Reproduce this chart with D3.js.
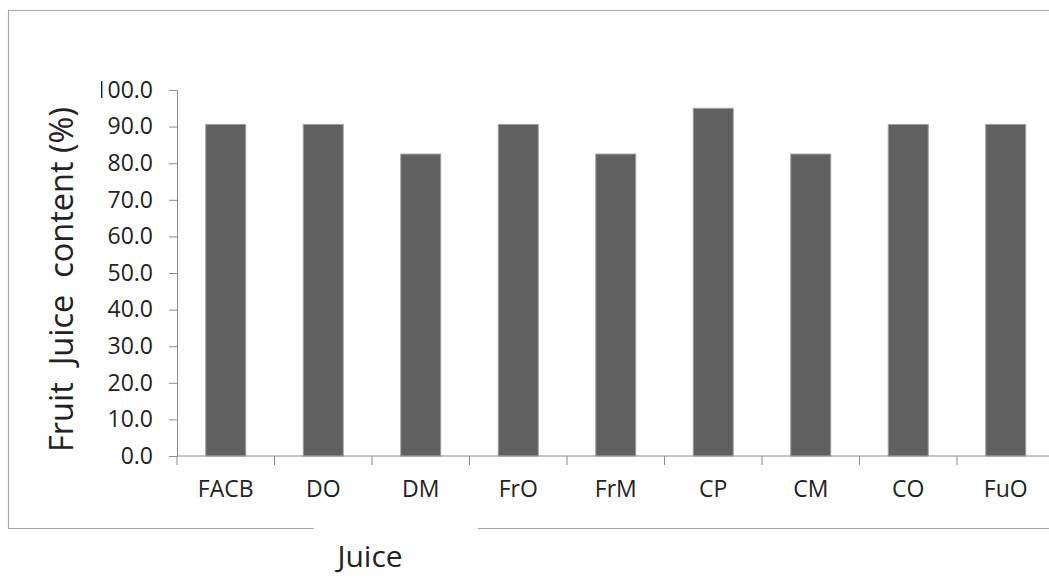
<!DOCTYPE html>
<html>
<head>
<meta charset="utf-8">
<script src="https://cdn.jsdelivr.net/npm/d3@7"></script>
<style>
  html, body { margin: 0; padding: 0; background: #fff; }
  svg { display: block; }
  text { font-family: "Open Sans", sans-serif; fill: #222; }
</style>
</head>
<body>
<svg id="chart" width="1049" height="577"></svg>
<script>
const categories = ["FACB", "DO", "DM", "FrO", "FrM", "CP", "CM", "CO", "FuO"];
const juiceContent = [90.6, 90.6, 82.5, 90.6, 82.5, 95.0, 82.5, 90.6, 90.6];
const yTicks = [0, 10, 20, 30, 40, 50, 60, 70, 80, 90, 100];
const yTitle = "Fruit  Juice  content (%)";
const xTitle = "Juice";

const svg = d3.select("#chart");

const plotLeft = 177, plotRight = 1054.5, plotTop = 90, plotBottom = 456;

const x = d3.scaleBand()
  .domain(categories)
  .range([plotLeft, plotRight])
  .paddingInner(0.59)
  .paddingOuter(0.295);

const y = d3.scaleLinear().domain([0, 100]).range([plotBottom, plotTop]);

svg.append("defs").append("clipPath").attr("id", "lblclip")
  .append("rect").attr("x", 101).attr("y", 0).attr("width", 1000).attr("height", 577);

// outer border (chart area frame), with gap for the x title
svg.append("path")
  .attr("d", `M313.5,528.5 H8.5 V10.5 H1060 M478,528.5 H1060`)
  .attr("fill", "none")
  .attr("stroke", "#a6a6a6")
  .attr("stroke-width", 1.2);

// bars
svg.append("g").selectAll("rect")
  .data(categories.map((c, i) => ({ c, v: juiceContent[i] })))
  .join("rect")
  .attr("x", d => x(d.c))
  .attr("width", x.bandwidth())
  .attr("y", d => y(d.v))
  .attr("height", d => y(0) - y(d.v))
  .attr("fill", "#606060")
  .attr("stroke", "#a0a0a0")
  .attr("stroke-width", 1);

// y axis
const yAxis = svg.append("g")
  .attr("clip-path", "url(#lblclip)")
  .append("g")
  .attr("transform", `translate(${plotLeft},0)`)
  .call(d3.axisLeft(y).tickValues(yTicks).tickFormat(d3.format(".1f")).tickSize(8).tickSizeOuter(0).tickPadding(16));
yAxis.select(".domain").attr("stroke", "#8c8c8c");
yAxis.selectAll(".tick line").attr("stroke", "#8c8c8c");
yAxis.selectAll(".tick text").attr("font-size", 23).attr("font-family", "Open Sans, sans-serif").attr("fill", "#262626");

// x axis: line + ticks at band boundaries
const step = x.step();
const bounds = d3.range(categories.length + 1).map(i => plotLeft + i * step);
const xAxis = svg.append("g");
xAxis.append("line")
  .attr("x1", plotLeft).attr("x2", 1049)
  .attr("y1", y(0)).attr("y2", y(0))
  .attr("stroke", "#8c8c8c");
xAxis.selectAll("line.tk").data(bounds).join("line")
  .attr("class", "tk")
  .attr("x1", d => d).attr("x2", d => d)
  .attr("y1", y(0)).attr("y2", y(0) + 9)
  .attr("stroke", "#8c8c8c");
xAxis.selectAll("text").data(categories).join("text")
  .attr("x", d => x(d) + x.bandwidth() / 2)
  .attr("y", 496.5)
  .attr("text-anchor", "middle")
  .attr("font-size", 23)
  .attr("fill", "#262626")
  .text(d => d);

// y title
svg.append("text")
  .attr("transform", `translate(73,${(452 + 107) / 2}) rotate(-90)`)
  .attr("text-anchor", "middle")
  .attr("font-size", 32)
  .attr("textLength", 345)
  .attr("lengthAdjust", "spacingAndGlyphs")
  .style("white-space", "pre")
  .attr("fill", "#111")
  .text(yTitle);

// x title
svg.append("text")
  .attr("x", 370)
  .attr("y", 567)
  .attr("text-anchor", "middle")
  .attr("font-size", 30)
  .attr("fill", "#111")
  .text(xTitle);
</script>
</body>
</html>
